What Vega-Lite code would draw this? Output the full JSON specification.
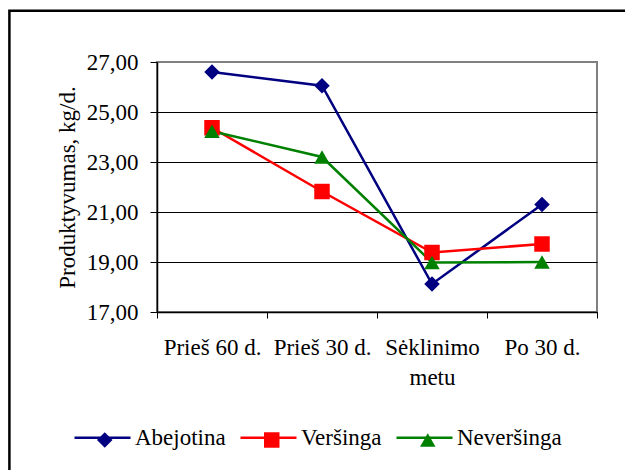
{
  "$schema": "https://vega.github.io/schema/vega-lite/v6.json",
  "width": 440,
  "height": 250,
  "autosize": {"type": "none"},
  "padding": {"left": 157, "top": 62, "right": 28, "bottom": 158},
  "background": "white",
  "config": {
    "font": "Liberation Serif",
    "view": {"stroke": "#808080", "strokeWidth": 2},
    "legend": {"strokeWidth": 2.5},
    "axis": {
      "labelFont": "Liberation Serif",
      "labelFontSize": 23,
      "labelColor": "black",
      "titleFont": "Liberation Serif",
      "titleFontSize": 23,
      "titleFontWeight": "normal",
      "titleColor": "black",
      "domainColor": "black",
      "tickColor": "black"
    }
  },
  "data": {
    "values": [
      {"period": "Prieš 60 d.", "series": "Abejotina", "value": 26.6},
      {"period": "Prieš 30 d.", "series": "Abejotina", "value": 26.05},
      {"period": "Sėklinimo metu", "series": "Abejotina", "value": 18.12},
      {"period": "Po 30 d.", "series": "Abejotina", "value": 21.3},
      {"period": "Prieš 60 d.", "series": "Veršinga", "value": 24.37},
      {"period": "Prieš 30 d.", "series": "Veršinga", "value": 21.82},
      {"period": "Sėklinimo metu", "series": "Veršinga", "value": 19.38},
      {"period": "Po 30 d.", "series": "Veršinga", "value": 19.72},
      {"period": "Prieš 60 d.", "series": "Neveršinga", "value": 24.23},
      {"period": "Prieš 30 d.", "series": "Neveršinga", "value": 23.2},
      {"period": "Sėklinimo metu", "series": "Neveršinga", "value": 18.98},
      {"period": "Po 30 d.", "series": "Neveršinga", "value": 19.0}
    ]
  },
  "encoding": {
    "x": {
      "field": "period",
      "type": "nominal",
      "sort": ["Prieš 60 d.", "Prieš 30 d.", "Sėklinimo metu", "Po 30 d."],
      "scale": {"type": "band", "paddingInner": 0, "paddingOuter": 0},
      "axis": {
        "title": null,
        "labelAngle": 0,
        "tickBand": "extent",
        "tickSize": 6,
        "labelPadding": 18,
        "labelLineHeight": 30,
        "labelLimit": 0,
        "grid": false,
        "domainWidth": 1.5,
        "labelExpr": "datum.label == 'Sėklinimo metu' ? ['Sėklinimo', 'metu'] : datum.label"
      }
    },
    "y": {
      "field": "value",
      "type": "quantitative",
      "scale": {"domain": [17, 27], "nice": false, "zero": false},
      "axis": {
        "title": "Produktyvumas, kg/d.",
        "titlePadding": 7,
        "values": [17, 19, 21, 23, 25, 27],
        "tickSize": 7,
        "labelPadding": 12,
        "domainWidth": 1.5,
        "grid": true,
        "gridColor": {"condition": {"test": "datum.value === 27", "value": "#808080"}, "value": "black"},
        "gridWidth": 1,
        "labelExpr": "replace(format(datum.value, '.2f'), '.', ',')"
      }
    }
  },
  "layer": [
    {
      "mark": {"type": "line", "strokeWidth": 2.5},
      "encoding": {
        "color": {
          "field": "series",
          "type": "nominal",
          "scale": {"domain": ["Abejotina", "Veršinga", "Neveršinga"], "range": ["#000080", "#ff0000", "#008000"]},
          "legend": {
            "title": null,
            "orient": "none",
            "legendX": -84,
            "legendY": 346,
            "direction": "horizontal",
            "padding": 0,
            "symbolType": "stroke",
            "symbolSize": 3136,
            "symbolStrokeWidth": 2.5,
            "labelFont": "Liberation Serif",
            "labelFontSize": 23,
            "labelColor": "black",
            "labelOffset": 3,
            "labelLimit": 0,
            "columnPadding": 9
          }
        }
      }
    },
    {
      "mark": {"type": "point", "filled": true, "opacity": 1, "size": 240},
      "encoding": {
        "color": {
          "field": "series",
          "type": "nominal",
          "scale": {"domain": ["Abejotina", "Veršinga", "Neveršinga"], "range": ["#000080", "#ff0000", "#008000"]},
          "legend": {
            "title": null,
            "orient": "none",
            "legendX": -63.75,
            "legendY": 366.25,
            "direction": "horizontal",
            "padding": 0,
            "symbolSize": 240,
            "symbolOpacity": 1,
            "labelFont": "Liberation Serif",
            "labelFontSize": 23,
            "labelOpacity": 0,
            "labelOffset": 43.5,
            "labelLimit": 0,
            "columnPadding": 9
          }
        },
        "shape": {
          "field": "series",
          "type": "nominal",
          "scale": {"domain": ["Abejotina", "Veršinga", "Neveršinga"], "range": ["diamond", "square", "triangle-up"]},
          "legend": {
            "title": null,
            "orient": "none",
            "legendX": -63.75,
            "legendY": 366.25,
            "direction": "horizontal",
            "padding": 0,
            "symbolSize": 240,
            "symbolOpacity": 1,
            "labelFont": "Liberation Serif",
            "labelFontSize": 23,
            "labelOpacity": 0,
            "labelOffset": 43.5,
            "labelLimit": 0,
            "columnPadding": 9
          }
        },
        "opacity": {
          "field": "value",
          "type": "quantitative",
          "scale": {"range": [1, 1]},
          "legend": {
            "title": null,
            "orient": "none",
            "legendX": -147.6,
            "legendY": -51.3,
            "padding": 800,
            "strokeColor": "black",
            "symbolOpacity": 0,
            "symbolSize": 0,
            "labelOpacity": 0,
            "labelExpr": "''"
          }
        }
      }
    }
  ],
  "resolve": {
    "scale": {"color": "independent", "shape": "independent", "opacity": "independent"},
    "legend": {"color": "independent", "shape": "independent", "opacity": "independent"}
  }
}
